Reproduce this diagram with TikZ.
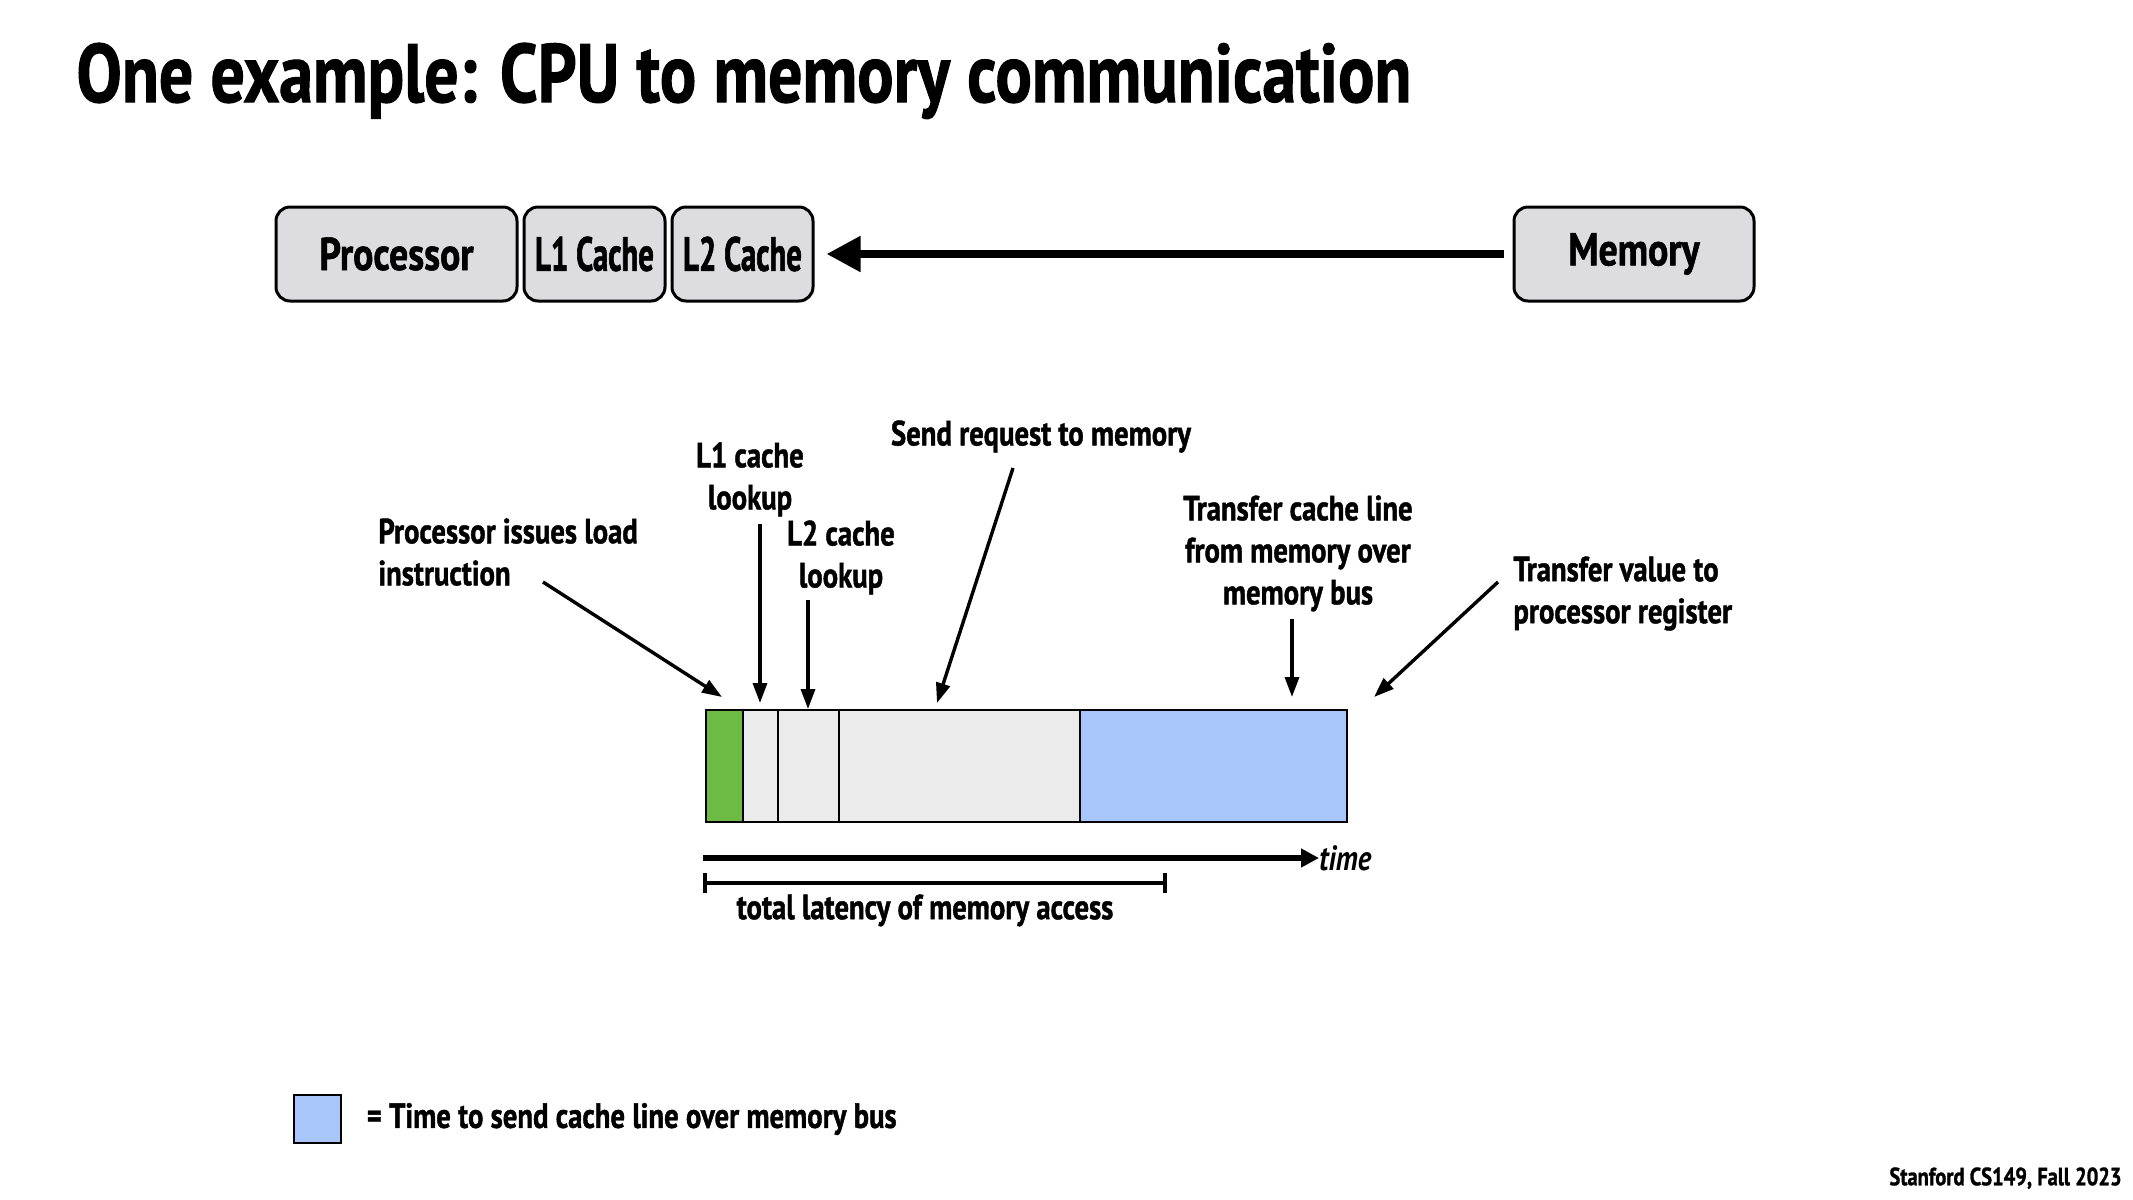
\documentclass[tikz,border=0pt]{standalone}
\usepackage{fontspec}
\setmainfont{PT Sans}[FakeStretch=0.82, BoldFeatures={FakeBold=1.2}]
\newfontfamily\tightfamily{PT Sans}[FakeStretch=0.64, BoldFeatures={FakeBold=1.2}]
\usetikzlibrary{arrows.meta,positioning}

% Colours
\definecolor{boxgray}{HTML}{DDDDDF}
\definecolor{seggray}{HTML}{EBEBEB}
\definecolor{seggreen}{HTML}{6DBB45}
\definecolor{segblue}{HTML}{A8C6FA}

% Font sizes (1 px of the slide = 0.5pt)
\newcommand\headfont{\fontsize{41.4pt}{48pt}\selectfont\bfseries}
\newcommand\boxfont{\fontsize{23pt}{28pt}\selectfont\bfseries}
\newcommand\cachefont{\tightfamily\fontsize{24pt}{28pt}\selectfont\bfseries}
\newcommand\notefont{\fontsize{17.5pt}{21pt}\selectfont\bfseries}
\newcommand\creditfont{\fontsize{12.5pt}{16pt}\selectfont\bfseries}

\tikzset{
  unitbox/.style={draw, line width=1.5pt, rounded corners=7pt, fill=boxgray,
    inner sep=0pt, minimum height=47pt, font=\boxfont},
  note/.style={inner sep=0pt, font=\notefont, align=center},
  pointer/.style={-{Triangle[length=10pt,width=7pt]}, line width=1.7pt},
}

\begin{document}
\begin{tikzpicture}[x=0.5pt, y=-0.5pt]
  \useasboundingbox (0,0) rectangle (2133,1200);

  % Title
  \node[anchor=base west, inner sep=0pt, font=\headfont] (title) at (76,102)
    {One example: CPU to memory communication};

  % Processor, caches and memory
  \node[unitbox, minimum width=120.5pt] (proc) at (396.5,254) {Processor};
  \node[unitbox, minimum width=70.5pt, font=\cachefont, right=2pt of proc] (lone) {L1 Cache};
  \node[unitbox, minimum width=70.5pt, font=\cachefont, right=2pt of lone] (ltwo) {L2 Cache};
  \node[unitbox, minimum width=120pt] (mem) at (1634,254) {Memory};
  \draw[-{Triangle[length=17pt,width=17pt]}, line width=4pt,
    shorten <=4.5pt, shorten >=6pt] (mem.west) -- (ltwo.east);

  % Timeline of one load
  \def\bartop{710}
  \def\barbot{822}
  \foreach \a/\b/\c in {706/743/seggreen, 743/778/seggray, 778/839/seggray,
                        839/1080/seggray, 1080/1347/segblue} {
    \draw[line width=1.4pt, fill=\c] (\a,\bartop) rectangle (\b,\barbot);
  }

  % Time axis and total latency
  \coordinate (t0) at (703,858);
  \node[note, anchor=west, font=\notefont\itshape] (timelbl) at (1319,858) {time};
  \draw[-{Triangle[length=9pt,width=9pt]}, line width=2.7pt] (t0) -- (timelbl.west);
  \coordinate (lat0) at (703,883);
  \coordinate (lat1) at (1167,883);
  \draw[{Bar[width=10pt]}-{Bar[width=10pt]}, line width=2pt] (lat0) -- (lat1);
  \node[note, anchor=north] (latlbl) at (925,894) {total latency of memory access};

  % Labels above the timeline
  \node[note, anchor=north west, align=left] (issue) at (378,518)
    {Processor issues load\\instruction};
  \node[note, anchor=north] (lonelbl) at (750,442) {L1 cache\\lookup};
  \node[note, anchor=north] (ltwolbl) at (841,520) {L2 cache\\lookup};
  \node[note, anchor=north] (sendlbl) at (1041,420) {Send request to memory};
  \node[note, anchor=north] (buslbl) at (1298,495)
    {Transfer cache line\\from memory over\\memory bus};
  \node[note, anchor=north west, align=left] (reglbl) at (1513,556)
    {Transfer value to\\processor register};

  % Pointers from the labels to the timeline
  \foreach \name/\tx/\ty/\hx/\hy in {issue/543/582/722/697, lone/760/524/760/703,
      ltwo/808/600/808/709, send/1013/468/937/703, bus/1292/619/1292/697,
      reg/1498/582/1374/697} {
    \coordinate (\name-tail) at (\tx,\ty);
    \coordinate (\name-tip) at (\hx,\hy);
    \draw[pointer] (\name-tail) -- (\name-tip);
  }

  % Legend
  \node[draw, line width=1.4pt, fill=segblue, minimum width=23.5pt,
    minimum height=24pt, inner sep=0pt] (key) at (317.5,1119) {};
  \node[note, right=12pt of key] (keylbl) {= Time to send cache line over memory bus};

  % Credit line
  \node[anchor=north east, inner sep=0pt, font=\creditfont] (credit) at (2122,1167)
    {Stanford CS149, Fall 2023};
\end{tikzpicture}
\end{document}
